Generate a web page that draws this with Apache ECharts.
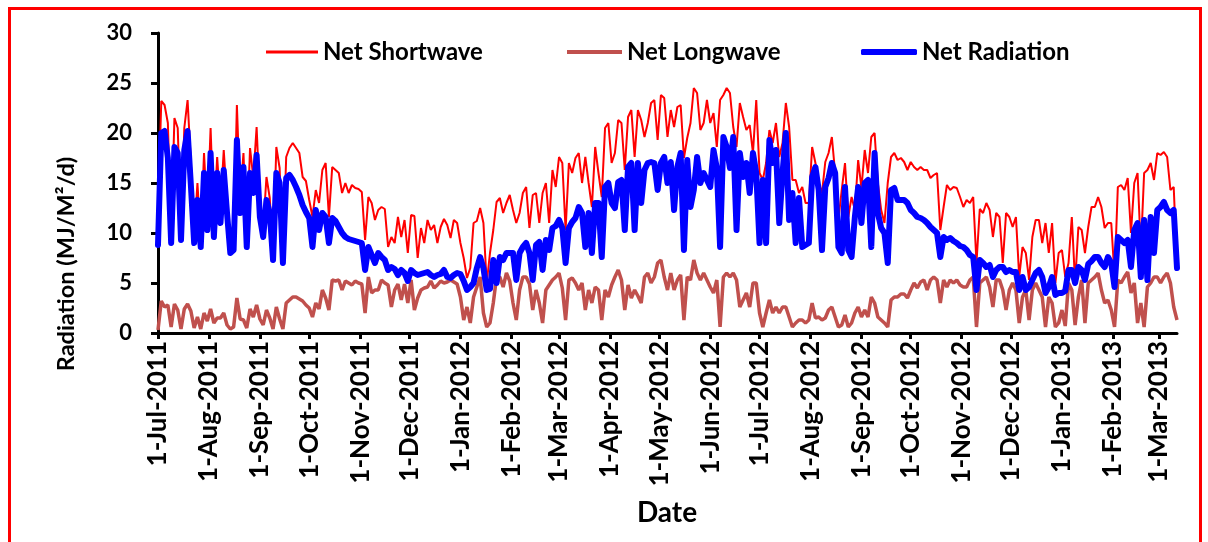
<!DOCTYPE html>
<html><head><meta charset="utf-8">
<script src="https://cdn.jsdelivr.net/npm/echarts@6/dist/echarts.min.js"></script>
<style>html,body{margin:0;padding:0;background:#fff}#c{width:1208px;height:542px}</style>
</head><body><div id="c"></div>
<script>
// Daily axis from 1-Jul-2011; values sampled every 2 days
const startYear = 2011, startMonth = 6, startDay = 1;
const dayCount = 621;
const stepDays = 2;
const yMin = 0, yMax = 30, yStep = 5;
const monthNames = ['Jan','Feb','Mar','Apr','May','Jun','Jul','Aug','Sep','Oct','Nov','Dec'];
const seriesNames = ['Net Shortwave','Net Longwave','Net Radiation'];

const shortwave = [
12,23.2,22.8,21,10,21.5,20.5,10,20.5,23.3,17,9.6,15,9.3,18,11.5,20.5,11,17.6,12.5,18.3,13,8.5,9,22.8,13.5,18,9.2,18.5,15.5,20.6,13,10.5,15.6,13.5,7.8,18.6,16.5,7.5,
17.6,18.5,19,18.5,18,15.6,15.2,13.3,11.6,14.3,13,16.3,17,11.6,16.6,16.3,16,14,15,14,14.8,14.5,14.4,14.1,9.3,13.6,13,11.3,12.3,12.6,12.4,8.6,9.6,9,11.6,9.6,11.3,8,11.8,11.7,
7.5,10.5,9,11.3,10.3,10.8,9,10.6,11.4,10.8,9.5,11.3,11,9,7.5,5.5,6.5,11,11.2,12.5,11,5,8,10.3,13.1,13.5,12,13,13.8,12.3,11,12,14,14.6,10.5,13.8,14,11,14,
15,11,16.3,14.6,17.6,17,10.3,17,16,17.5,18,15,17.6,15,12.6,18.6,16,13.6,20.5,21,17,18,21.3,21,16.3,21.6,22.3,17.6,22.3,21.3,19.6,21,23,23.3,19.3,23.8,23.5,19.6,22.3,20.6,
22.6,22.8,17.5,19.5,21,24.5,24,20.3,21,23.3,21,22,18.6,23.3,23.8,24.5,24,20.6,18.6,23,21.6,20.3,20.8,18,23.3,16,15.3,17,20.3,19,21,17.6,19,23,20.6,15.3,15.3,14,14.6,
13,13,18.6,17,15,14,17.1,18,19.6,16,11.3,14.3,17,11.6,13.6,12.3,17.3,14.5,18.3,16,19.6,20,15,12.3,11,15,17.6,18,17.3,17.5,17.1,16.3,17.1,16.6,16.3,16.6,16.3,16.3,15.5,15.8,
16,10.3,12.6,14.8,14.3,14.6,14.5,13.6,12.6,13.3,13,13.6,7,12.4,12,13,12.3,9.6,12,11.6,7,12,11.6,10.6,11.6,5.6,8.6,8,5.3,9.6,11.3,11.3,9,11,8,11,5,8,8.3,
5.6,7,11.6,5,10.6,10.3,8,10.6,12.6,12.6,13.6,12.6,10.5,11,11,5.6,14.6,14.8,14.3,15.5,10,15,16,8.3,16,16.3,17,15.3,18,17.8,18.1,17.6,14.3,14.6,6.6
];
const longwave = [
0.3,3.2,2.6,2.8,0.6,2.9,2.3,0.4,2.4,2.9,2.2,0.5,1.6,0.4,2,1.2,2.4,1,1.5,1.5,2,0.8,0.4,0.6,3.5,1.4,1.3,0.5,2.4,1.6,2.8,1.4,0.8,2.3,1.5,0.4,2.6,1.4,0.4,
3,3.3,3.6,3.6,3.4,3.2,2.8,2.5,1.6,3,2.4,4.3,3.5,2.3,5.3,5.2,5.3,4.3,5.2,5,4.8,5.2,5,4.9,2,5.6,4,4.3,4.3,5.3,5,4.8,2.6,4.3,4.9,3.3,4.9,3,5.3,2.3,
3.5,4.3,4.5,4.6,5.2,4.5,4.8,5.2,5,5.1,5.3,5.1,4.9,3.6,1.3,2.6,1,3.6,4.6,5.6,2,0.6,1,3,5.6,5.6,4.6,6,5.2,3,1.3,4.3,5.6,5.6,4.9,2.3,4.3,3,1,
4.3,4.8,5.3,5.6,6,4.5,1.3,5.3,5.5,5,4.3,5,2.3,4.3,3,4.6,4.3,1.3,4.3,3.6,4.8,5.6,6.3,5.3,2.3,4.8,3.5,4.3,3.7,3,5.6,6,5,5.6,7,7.3,5.6,4.3,6,4.3,
5.3,5.8,1.3,5.6,5.3,7.3,6,5.3,6,5.3,4.6,4,5.3,0.6,5.6,6,5.6,6,5.3,2.6,3.3,4,2.6,5,5,2,0.6,2,3.3,2,2.6,2,2.6,2.6,1.6,0.6,1,1.3,1.3,
1,1.3,3,1.5,1.6,1.3,1.5,2.3,2.6,1.6,0.6,0.8,1.8,0.6,1,2,2.6,1.6,2.3,1.6,3.6,3,1.6,1.3,1,0.6,3.3,3.6,3.6,3.9,3.9,3.5,4.3,5,4.5,5.1,5.3,4.3,5.3,5.6,
5.3,3,5.3,4.6,5.3,5,5.3,4.8,4.6,4.6,5.3,5.6,0.6,5,5.3,5.6,4.6,2.6,5.3,5.3,4.3,2.3,4.3,5,4.3,1,3.6,4.3,1.3,4.3,5,4.3,3.6,0.6,3.6,3,0.6,1,2.3,
0.7,5,4.3,0.8,3.6,5.3,1,5,5.3,5.6,6,4.3,3,3.3,2.3,0.6,5.3,5,5.6,6.1,4,5,1,3,0.6,4.6,5,5.6,5.6,5,5.6,6,5,2.6,1.3
];
const netRadiation = [
8.8,20,20.2,17.5,9,18.6,18,9.3,18.3,20.2,14.8,9,13.3,8.6,16,10.3,18,9.6,16,11,16.3,12,8,8.3,19.3,12,16.6,8.6,16,14,17.8,11.6,9.6,13.3,12,7.3,16,15,7,
15.5,15.8,15.3,14.6,13.8,12.8,12.1,11.5,8.6,12.3,10.3,12,11.6,9,11.5,11.2,10.6,10,9.6,9.4,9.3,9.2,9.1,9,6.3,8.6,7.8,7,8,7.6,7.3,6.3,6.6,6.4,5.8,6.3,6,5.2,6.3,6,
5.8,5.9,6,6.1,5.8,5.6,5.8,5.9,6.3,5.6,5.5,5.8,6,5.9,5.2,4.3,4.6,5,6.5,7.6,6.5,4.3,4.4,7.3,5,7.6,7.3,8,8,8,5.3,8,8.6,9,8,5.3,8.8,9.1,6.3,
9.3,8.3,10.5,10.7,11.3,10.5,7,10.5,11.1,11.5,12.6,12,8.6,12,8,13,13,7.6,14.6,15,13,12.5,15.1,15.3,10.3,16.6,17,10.3,17,13,16.3,17,17.1,17,14.3,17,17.6,15,17.1,12.3,
16.6,18,8.3,17.3,12.6,14.3,17.6,15,16,15.3,14.6,18.3,16.5,8.6,19.6,18.6,16.5,19.6,10.3,18,15.6,17,14,18,16,9,15.3,9,19.3,17,18.3,11,16,20,11.3,14,9,13.5,8.6,
8.8,9,15.6,16.6,14.3,8.3,14.6,15.5,17,16,8.6,8,14.6,8.3,7.6,11.6,14.6,11,15,15.3,8.6,18,12,10.5,10,7,14.3,14.5,13.3,13.3,13.3,13,12.3,12,11.6,11.5,11.3,11,10.6,10.3,
10,7.6,9.6,9.3,9.5,9.2,9,8.7,8.6,8.3,7.8,7.6,4.3,7.3,7,6.6,6.8,5.6,6.3,6.6,6.6,6.1,6.3,6.1,6.1,4.3,5.6,4.3,4.6,5.3,6,6.3,5.6,4,4.6,5.6,3.8,4,4,
4.2,6.3,6.3,5,6.6,6.3,5.3,6.9,7.2,7.6,7.6,7,6.6,7.6,7,4.6,9.6,9.3,9,9.3,6.6,10.3,11,5.6,11.3,5.3,11.6,8,12.3,12.6,13.1,12.3,12,12.3,6.5
];

const dates = [];
for (let k = 0; k < dayCount; k++) {
  const d = new Date(Date.UTC(startYear, startMonth, startDay + k));
  dates.push(d.getUTCDate() + '-' + monthNames[d.getUTCMonth()] + '-' + d.getUTCFullYear());
}
const isMonthStart = (idx, val) => String(val).indexOf('1-') === 0;
const toPairs = arr => arr.map((v, i) => [i * stepDays, v]);

const FONT = 'Lato, "Open Sans", sans-serif';
const chart = echarts.init(document.getElementById('c'), null, {renderer: 'canvas'});
const legendText = {fontFamily: FONT, fontWeight: 'bold', fontSize: 24, color: '#000'};
chart.setOption({
  animation: false,
  backgroundColor: '#fff',
  grid: {left: 158, right: 31, top: 33, bottom: 209, containLabel: false},
  legend: [
    {data: [{name: seriesNames[0], icon: 'rect'}], left: 266, top: 40, padding: 0, itemWidth: 52, itemHeight: 3, itemGap: 6, textStyle: legendText},
    {data: [{name: seriesNames[1], icon: 'rect'}], left: 567, top: 40, padding: 0, itemWidth: 55, itemHeight: 4, itemGap: 6, textStyle: legendText},
    {data: [{name: seriesNames[2], icon: 'roundRect'}], left: 861, top: 40, padding: 0, itemWidth: 56, itemHeight: 6, itemGap: 6, textStyle: legendText}
  ],
  xAxis: {
    type: 'category', data: dates, boundaryGap: false,
    axisLine: {lineStyle: {color: '#000', width: 3}},
    axisTick: {show: true, interval: isMonthStart, length: 6, lineStyle: {color: '#000', width: 3}},
    axisLabel: {interval: isMonthStart, rotate: 90, margin: 8, fontFamily: FONT, fontWeight: 'bold', fontSize: 26, color: '#000'},
    splitLine: {show: false}
  },
  yAxis: {
    type: 'value', min: yMin, max: yMax, interval: yStep,
    axisLine: {show: true, lineStyle: {color: '#000', width: 3}},
    axisTick: {show: true, length: 7, lineStyle: {color: '#000', width: 3}},
    axisLabel: {margin: 26, fontFamily: FONT, fontWeight: 'bold', fontSize: 22, color: '#000'},
    splitLine: {show: false}
  },
  series: [
    {name: seriesNames[0], type: 'line', data: toPairs(shortwave), symbol: 'none', showSymbol: false,
     lineStyle: {color: '#FF0000', width: 2}, itemStyle: {color: '#FF0000'}, z: 2},
    {name: seriesNames[1], type: 'line', data: toPairs(longwave), symbol: 'none', showSymbol: false,
     lineStyle: {color: '#C0504D', width: 3.5}, itemStyle: {color: '#C0504D'}, z: 3},
    {name: seriesNames[2], type: 'line', data: toPairs(netRadiation), symbol: 'none', showSymbol: false,
     lineStyle: {color: '#0000FF', width: 6, join: 'round', cap: 'round'}, itemStyle: {color: '#0000FF'}, z: 4}
  ],
  graphic: [
    {type: 'rect', silent: true, shape: {x: 9.5, y: 8.5, width: 1191, height: 600},
     style: {fill: 'none', stroke: '#FF0000', lineWidth: 3}},
    {type: 'text', x: 66, y: 264, rotation: Math.PI / 2,
     style: {text: 'Radiation (MJ/M\u00B2/d)', fill: '#000', font: 'bold 23.5px ' + FONT,
             align: 'center', verticalAlign: 'middle', textAlign: 'center', textVerticalAlign: 'middle'}},
    {type: 'text', x: 667, y: 513,
     style: {text: 'Date', fill: '#000', font: 'bold 28px ' + FONT,
             align: 'center', verticalAlign: 'middle', textAlign: 'center', textVerticalAlign: 'middle'}}
  ]
});
</script></body></html>
